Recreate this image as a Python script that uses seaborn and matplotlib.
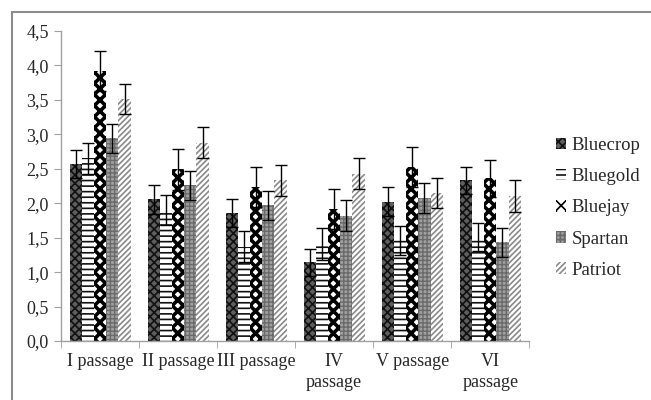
"""
Bar chart of five blueberry cultivars across six passages, with error bars.
"""
import pandas as pd
import matplotlib.pyplot as plt
import matplotlib.ticker as mticker
import seaborn as sns
from matplotlib.lines import Line2D

# Data
passages = ['I passage', 'II passage', 'III passage', 'IV\npassage', 'V passage', 'VI\npassage']
cultivars = ['Bluecrop', 'Bluegold', 'Bluejay', 'Spartan', 'Patriot']

bluecrop = [2.57, 2.06, 1.86, 1.14, 2.02, 2.33]
bluegold = [2.65, 1.90, 1.37, 1.41, 1.46, 1.51]
bluejay = [3.92, 2.49, 2.24, 1.91, 2.53, 2.36]
spartan = [2.94, 2.26, 1.97, 1.82, 2.08, 1.43]
patriot = [3.51, 2.88, 2.33, 2.43, 2.15, 2.10]

bluecrop_err = [0.20, 0.21, 0.20, 0.20, 0.21, 0.19]
bluegold_err = [0.22, 0.22, 0.22, 0.23, 0.21, 0.21]
bluejay_err = [0.29, 0.30, 0.29, 0.29, 0.29, 0.27]
spartan_err = [0.21, 0.21, 0.21, 0.22, 0.22, 0.21]
patriot_err = [0.22, 0.22, 0.22, 0.23, 0.22, 0.23]

values = [bluecrop, bluegold, bluejay, spartan, patriot]
errors = [bluecrop_err, bluegold_err, bluejay_err, spartan_err, patriot_err]

# Long table for seaborn
rows = []
for c, vals in zip(cultivars, values):
    for p, v in zip(passages, vals):
        rows.append({'Passage': p, 'Cultivar': c, 'Value': v})
df = pd.DataFrame(rows)

sns.set_style('white')
plt.rcParams['font.family'] = ['Liberation Serif', 'DejaVu Serif']
plt.rcParams['hatch.linewidth'] = 1.2

# face colour, hatch colour, hatch pattern, hatch width per cultivar
styles = {
    'Bluecrop': ('#5e5e5e', '#111111', 'xxxx', 1.2),
    'Bluegold': ('white', '#111111', '---', 1.2),
    'Bluejay': ('white', '#000000', 'xxx', 2.6),
    'Spartan': ('#a0a0a0', '#6a6a6a', '++++', 1.0),
    'Patriot': ('white', '#8a8a8a', '//////', 1.2),
}


def style_patch(p, c):
    face, hcol, hatch, hlw = styles[c]
    p.set_facecolor(face)
    p.set_edgecolor(hcol)
    p.set_hatch(hatch)
    p.set_linewidth(0)
    if hasattr(p, 'set_hatch_linewidth'):
        p.set_hatch_linewidth(hlw)


fig = plt.figure(figsize=(6.51, 4.0), dpi=100)
ax = fig.add_axes([0.094, 0.1475, 0.719, 0.775])

sns.barplot(data=df, x='Passage', y='Value', hue='Cultivar', order=passages,
            hue_order=cultivars, width=0.78, errorbar=None, ax=ax,
            palette=['white'] * 5, legend=False)

for cont, c, errs in zip(ax.containers, cultivars, errors):
    xs, ys = [], []
    for bar in cont:
        style_patch(bar, c)
        xs.append(bar.get_x() + bar.get_width() / 2)
        ys.append(bar.get_height())
    ax.errorbar(xs, ys, yerr=errs, fmt='none', ecolor='black', elinewidth=1,
                capsize=4, capthick=1)

ax.set_ylim(0, 4.5)
ax.set_xlim(-0.5, len(passages) - 0.5)
ax.set_yticks([i * 0.5 for i in range(10)])
ax.yaxis.set_major_formatter(mticker.FuncFormatter(lambda v, _: f'{v:.1f}'.replace('.', ',')))
ax.set_xlabel('')
ax.set_ylabel('')
ax.set_xticks(range(len(passages)))
ax.set_xticklabels(passages, fontsize=13, linespacing=1.3)
ax.tick_params(axis='x', length=0, pad=9)
ax.xaxis.set_minor_locator(mticker.FixedLocator([i - 0.5 for i in range(len(passages) + 1)]))
ax.tick_params(axis='x', which='minor', length=5, color='#a0a0a0', direction='out', bottom=True)
ax.tick_params(axis='y', labelsize=13, length=5, color='#a0a0a0', direction='out', left=True, pad=4)
for s in ['top', 'right']:
    ax.spines[s].set_visible(False)
for s in ['left', 'bottom']:
    ax.spines[s].set_color('#a0a0a0')
    ax.spines[s].set_linewidth(1)

# legend
handles = []
for c in cultivars:
    h = plt.Rectangle((0, 0), 1, 1)
    style_patch(h, c)
    handles.append(h)
fig.legend(handles, cultivars, loc='center left', bbox_to_anchor=(0.828, 0.48),
           frameon=False, fontsize=13.5, handlelength=0.55, handleheight=0.55,
           handletextpad=0.3, labelspacing=0.75)

# outer frame of the chart area
fig.add_artist(Line2D([12 / 651, 1], [1 - 12 / 400, 1 - 12 / 400],
                      transform=fig.transFigure, color='#8c8c8c', linewidth=1.5))
fig.add_artist(Line2D([12 / 651, 12 / 651], [0, 1 - 12 / 400],
                      transform=fig.transFigure, color='#8c8c8c', linewidth=1.5))

fig.savefig('out.png', dpi=100)
